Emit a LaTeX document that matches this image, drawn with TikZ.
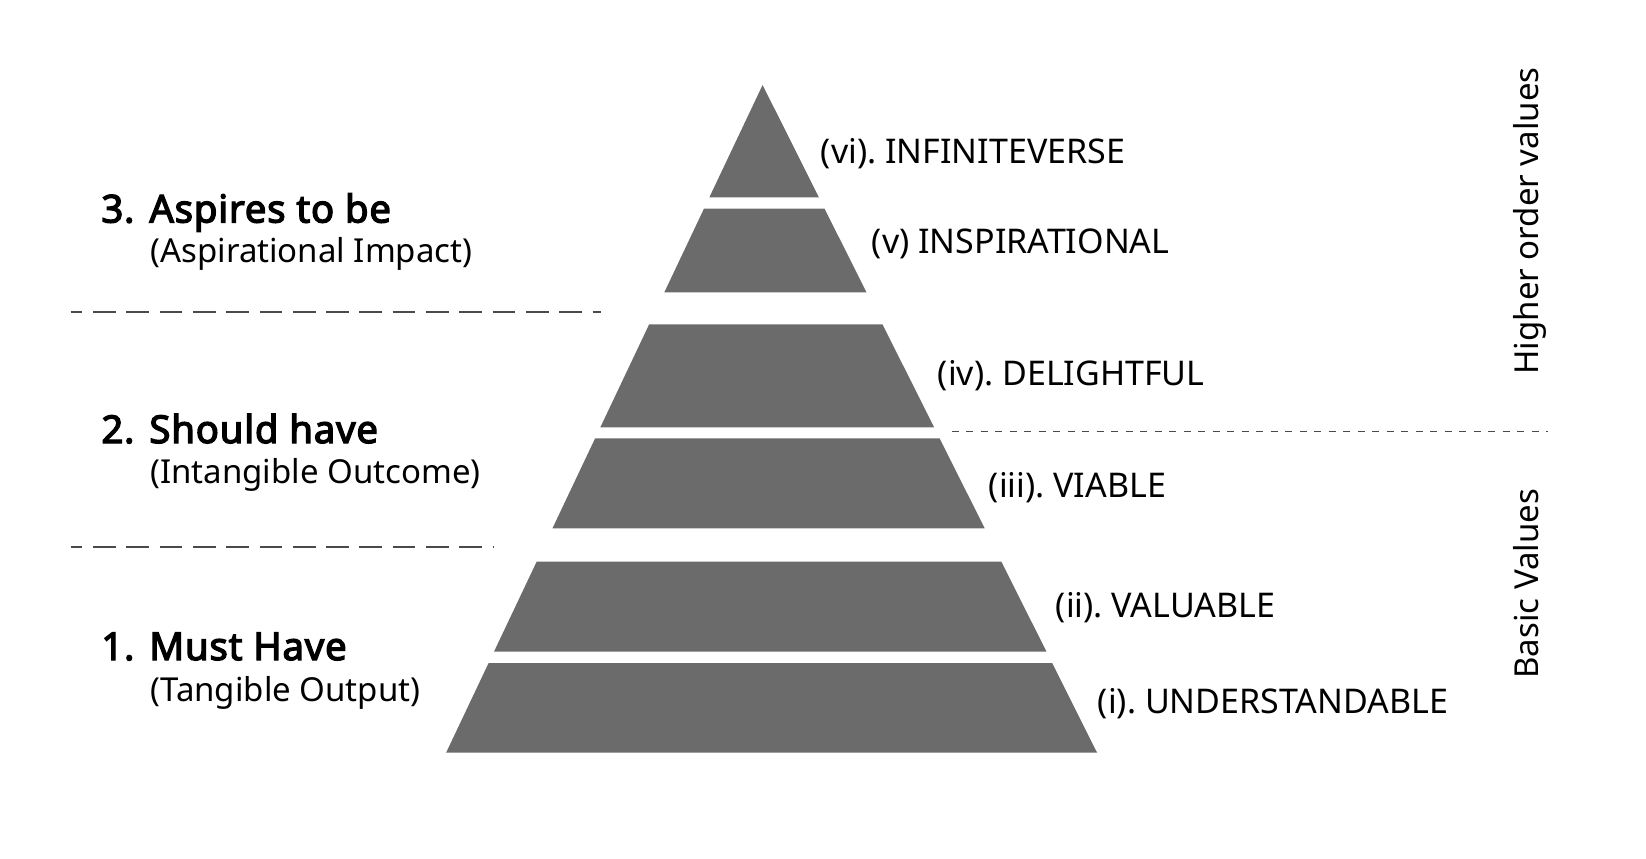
\documentclass[tikz,border=0pt]{standalone}
\usepackage{fontspec}
\setmainfont{Noto Sans}
\IfFontExistsTF{Noto Sans Bold}
  {\newfontfamily\headfont{Noto Sans Bold}\newcommand{\headsize}{\fontsize{18.8}{22}\selectfont}}
  {\newfontfamily\headfont{Noto Sans}[FakeBold=3.4, LetterSpace=2]\newcommand{\headsize}{\fontsize{19.2}{22}\selectfont}}
\usetikzlibrary{calc}
\definecolor{tiergray}{HTML}{6B6B6B}
\definecolor{linegray}{HTML}{4A4A4A}
\tikzset{
  tierfill/.style={fill=tiergray},
  lvl/.style={anchor=base west, inner sep=0pt, font=\fontsize{17}{20}\selectfont\frenchspacing},
  headbold/.style={anchor=base west, inner sep=0pt, font=\headfont\headsize\frenchspacing},
  sub/.style={anchor=base west, inner sep=0pt, font=\fontsize{16.5}{19}\selectfont\frenchspacing},
  side/.style={anchor=base west, inner sep=0pt, rotate=90, font=\fontsize{16.5}{19}\selectfont},
  groupsep/.style={draw=linegray, line width=0.9pt, dash pattern=on 11.35pt off 5.3pt, dash phase=5.5pt},
  valuesep/.style={draw=linegray, line width=0.7pt, dash pattern=on 3.5pt off 3.75pt},
}
\newcommand{\pyrtier}[2]{%
  \fill[tierfill] ($(apex)!#1!(bl)$) -- ($(apex)!#1!(br)$) -- ($(apex)!#2!(br)$) -- ($(apex)!#2!(bl)$) -- cycle;}
\begin{document}
\begin{tikzpicture}[x=0.5pt, y=-0.5pt]
\useasboundingbox (0,0) rectangle (1646,858);
% pyramid frame
\coordinate (apex) at (762.6,85);
\coordinate (bl) at (446.1,752.7);
\coordinate (br) at (1097.1,752.7);
% tiers
\fill[tierfill] (apex) -- ($(apex)!0.1682!(br)$) -- ($(apex)!0.1682!(bl)$) -- cycle;
\pyrtier{0.1853}{0.3105}
\pyrtier{0.3584}{0.5127}
\pyrtier{0.5291}{0.6639}
\pyrtier{0.7139}{0.8487}
\pyrtier{0.8657}{1}
% tier labels
\node[lvl] (t6) at (820.5,163) {(vi). INFINITEVERSE};
\node[lvl] (t5) at (871.5,253.5) {(v) INSPIRATIONAL};
\node[lvl] (t4) at (937.5,385.5) {(iv). DELIGHTFUL};
\node[lvl] (t3) at (988.5,497) {(iii). VIABLE};
\node[lvl] (t2) at (1055.5,617) {(ii). VALUABLE};
\node[lvl] (t1) at (1097.5,713.5) {(i). UNDERSTANDABLE};
% group labels
\node[headbold] (g3) at (101,222.5) {\makebox[24pt][l]{3.}Aspires to be};
\node[sub] (g3s) at (150,262) {(Aspirational Impact)};
\node[headbold] (g2) at (101,443) {\makebox[24pt][l]{2.}Should have};
\node[sub] (g2s) at (150,483) {(Intangible Outcome)};
\node[headbold] (g1) at (101,660) {\makebox[24pt][l]{1.}Must Have};
\node[sub] (g1s) at (150,701) {(Tangible Output)};
% group separators
\coordinate (s1a) at (70.7,312);
\coordinate (s1b) at (601,312);
\coordinate (s2a) at (70.7,547);
\coordinate (s2b) at (494,547);
\draw[groupsep] (s1a) -- (s1b);
\draw[groupsep] (s2a) -- (s2b);
% value separator
\coordinate (v1a) at (951.7,431.7);
\coordinate (v1b) at (1548,431.7);
\draw[valuesep] (v1a) -- (v1b);
% side labels
\node[side] (hv) at (1538,375) {Higher order values};
\node[side] (bv) at (1538,679) {Basic Values};
\end{tikzpicture}
\end{document}
